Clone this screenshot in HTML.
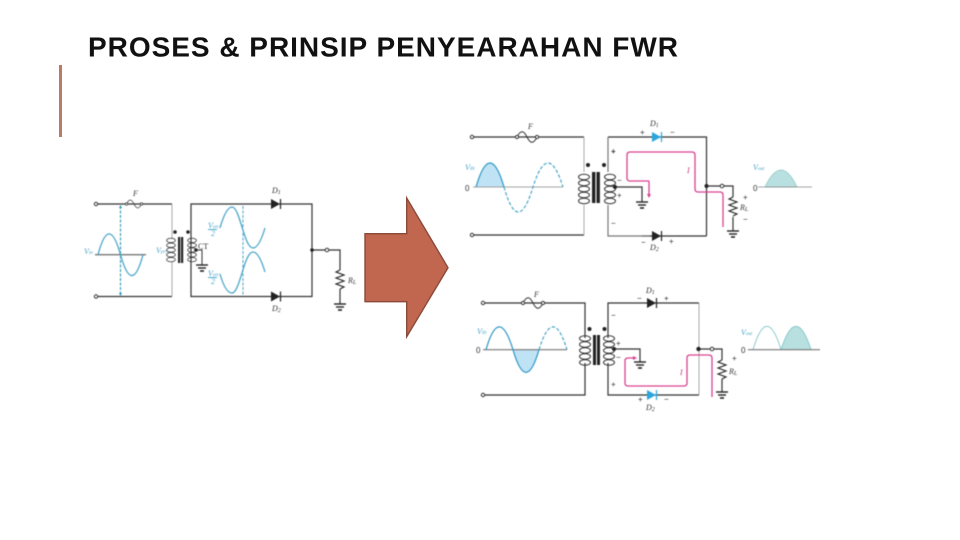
<!DOCTYPE html>
<html><head><meta charset="utf-8">
<style>
html,body{margin:0;padding:0;background:#fff;width:960px;height:540px;overflow:hidden}
svg{display:block;position:absolute;left:0;top:0}
.c{filter:blur(.45px)}
.l{font-family:"Liberation Serif",serif;font-style:italic;fill:#333;font-size:8px}
.b{fill:#4aa6c8}
.s{font-family:"Liberation Sans",sans-serif;font-size:8px;fill:#333}
</style></head><body>
<svg width="960" height="540" viewBox="0 0 960 540" xmlns="http://www.w3.org/2000/svg">
<defs>
<g id="coil" fill="none" stroke="#333" stroke-width="1"><ellipse cx="0" cy="-12" rx="5.5" ry="2.7"/><ellipse cx="0" cy="-6" rx="5.5" ry="2.7"/><ellipse cx="0" cy="0" rx="5.5" ry="2.7"/><ellipse cx="0" cy="6" rx="5.5" ry="2.7"/><ellipse cx="0" cy="12" rx="5.5" ry="2.7"/></g>
<g id="gnd" stroke="#222" fill="none"><path d="M-6 0H6" stroke-width="1.4"/><path d="M-4 3H4" stroke-width="1.4"/><path d="M-2 6H2" stroke-width="1.6"/></g>
<g id="fuse" fill="#fff" stroke="#333" stroke-width="1"><path d="M-10 0C-6-8-3-6 0 0S6 8 10 0" fill="none"/><circle cx="-10" cy="0" r="1.6"/><circle cx="10" cy="0" r="1.6"/></g>
<path id="res" d="M0 0L-4 2L4 5L-4 8L4 11L-4 14L4 17L0 19" fill="none" stroke="#222" stroke-width="1.1"/>
<g id="dk"><path d="M-5-5L4 0L-5 5Z" fill="#222"/><path d="M4.5-5V5" stroke="#222" stroke-width="1.2"/></g>
<g id="bl"><path d="M-5-5L4 0L-5 5Z" fill="#29a7dc"/><path d="M4.5-5V5" stroke="#29a7dc" stroke-width="1.2"/></g>
</defs>

<rect x="59" y="65" width="3" height="72" fill="#b97a66"/>
<text x="88" y="56.300" font-family="'Liberation Sans',sans-serif" font-size="28" font-weight="bold" fill="#111" textLength="590" lengthAdjust="spacing">PROSES &amp; PRINSIP PENYEARAHAN FWR</text>

<polygon points="365,233.700 406.700,233.700 406.700,198 448,267.700 406.700,336.700 406.700,301.700 365,301.700" fill="#c1674f" stroke="#8a4a3a" stroke-width="1.400"/>

<!-- LEFT -->
<g class="c">
<path d="M96 204H172M96 296.500H172M191 204H312V296.500H191ZM312 250H340V270M340 289V304" fill="none" stroke="#333" stroke-width="1.200"/>
<path d="M172 204V239M172 262V296.500" fill="none" stroke="#aaa" stroke-width="1"/>
<circle cx="96" cy="204" r="1.700" fill="#fff" stroke="#333"/><circle cx="96" cy="296.500" r="1.700" fill="#fff" stroke="#333"/>
<use href="#fuse" transform="translate(134,204) scale(.75)"/>
<path d="M120.500 206V295" stroke="#2f97b5" stroke-width="1.100" stroke-dasharray="3 1.500" fill="none"/>
<path d="M119 208L120.500 205L122 208ZM119 293L120.500 296L122 293Z" fill="#2f97b5"/>
<path d="M95 254.700H146" stroke="#777" stroke-width="1.400"/>
<path d="M98 254.700Q109 213 120.500 254.700T143 254.700" fill="none" stroke="#4aa6c8" stroke-width="1.300"/>
<use href="#coil" transform="translate(171,250) scale(.8)"/>
<rect x="178" y="237" width="2.200" height="26" fill="#222"/><rect x="181" y="237" width="2.200" height="26" fill="#222"/>
<use href="#coil" transform="translate(192,250) scale(.8)"/>
<circle cx="175" cy="232" r="1.800" fill="#222"/><circle cx="188" cy="232" r="1.800" fill="#222"/>
<circle cx="196" cy="250" r="1.800" fill="#222"/>
<path d="M196 250H202V265" stroke="#333" fill="none"/>
<use href="#gnd" transform="translate(202,265)"/>
<path d="M220 228C224 214 228 207 232 207C240 207 244 248 253 248C258 248 262 238 265 228" fill="none" stroke="#4aa6c8" stroke-width="1.300"/>
<path d="M220 274C224 288 228 293 232 293C240 293 244 252 253 252C258 252 262 262 265 272" fill="none" stroke="#4aa6c8" stroke-width="1.300"/>
<path d="M243 206V295" stroke="#4aa6c8" stroke-dasharray="3 1.500" fill="none"/>
<path d="M208 229.500H217M208 277.500H217" stroke="#4aa6c8"/>
<use href="#dk" transform="translate(276,204)"/><use href="#dk" transform="translate(276,296.500)"/>
<circle cx="312" cy="250" r="1.800" fill="#222"/><circle cx="327" cy="250" r="1.800" fill="#fff" stroke="#333"/>
<use href="#res" transform="translate(340,270)"/>
<use href="#gnd" transform="translate(340,304)"/>
<text class="l" x="133" y="196">F</text>
<text class="l" x="272" y="193">D<tspan font-size="6" dy="1">1</tspan></text>
<text class="l" x="272" y="311">D<tspan font-size="6" dy="1">2</tspan></text>
<text class="l b" x="84" y="254" font-size="7">V<tspan font-size="5">in</tspan></text>
<text class="l b" x="156" y="253" font-size="7">V<tspan font-size="5">pri</tspan></text>
<text class="l b" x="208" y="228" font-size="6">V<tspan font-size="5">sec</tspan></text>
<text class="l b" x="211" y="236" font-size="6">2</text>
<text class="l b" x="208" y="276" font-size="6">V<tspan font-size="5">sec</tspan></text>
<text class="l b" x="211" y="284" font-size="6">2</text>
<text class="s" x="198" y="249" style="font-family:'Liberation Serif',serif">CT</text>
<text class="l" x="348" y="283">R<tspan font-size="6" dy="1">L</tspan></text>
</g>

<!-- RIGHT TOP -->
<g class="c">
<path d="M472 137H584M472 235H584M608 137H706.500V236M642 236H706.500M706.500 186H733V197M733 217V231M615 187H642V202" fill="none" stroke="#333" stroke-width="1.200"/>
<path d="M584 137V172M584 205V235" stroke="#aaa" fill="none"/>
<path d="M608 137V172M608 205V236H650" stroke="#777" fill="none" stroke-width="1.200"/>
<circle cx="472" cy="137" r="1.700" fill="#fff" stroke="#333"/><circle cx="472" cy="235" r="1.700" fill="#fff" stroke="#333"/>
<use href="#fuse" transform="translate(527,137)"/>
<path d="M476 187Q490 139 504 187Z" fill="#bfe3f5"/>
<path d="M473 187H563" stroke="#888" stroke-width=".8"/>
<path d="M476 187Q490 139 504 187" fill="none" stroke="#2f97c5" stroke-width="1.200"/>
<path d="M504 187Q518 237 533 187Q548 139 563 187" fill="none" stroke="#4aa6c8" stroke-width="1.200" stroke-dasharray="3.500 1.800"/>
<use href="#coil" transform="translate(584,189)"/>
<rect x="592" y="172" width="3.400" height="31" fill="#222"/><rect x="596.500" y="172" width="3.400" height="31" fill="#222"/>
<use href="#coil" transform="translate(610,189)"/>
<circle cx="588" cy="165" r="2" fill="#222"/><circle cx="604" cy="165" r="2" fill="#222"/>
<circle cx="615" cy="187" r="2" fill="#222"/>
<use href="#gnd" transform="translate(642,202)"/>
<use href="#bl" transform="translate(657,137)"/><use href="#dk" transform="translate(657,236)"/>
<circle cx="706.500" cy="186" r="2" fill="#222"/><circle cx="722" cy="186" r="1.800" fill="#fff" stroke="#333"/>
<use href="#res" transform="translate(733,197)"/>
<use href="#gnd" transform="translate(733,231)"/>
<path d="M649 181H630Q627 181 627 178V155Q627 152 630 152H692Q695 152 695 155V189Q695 192 698 192H720Q723 192 723 195V227" fill="none" stroke="#d9408f" stroke-width="1.300"/>
<path d="M649 181V196" stroke="#d9408f" stroke-width="1.300"/><path d="M647 194H651L649 198Z" fill="#d9408f"/>
<path d="M765 187Q781 153 797 187Z" fill="#b9e0e0" stroke="#8cc5c5" stroke-width=".7"/>
<path d="M758 187H812" stroke="#888" stroke-width=".8"/>
<text class="l" x="650" y="126" font-size="9">D<tspan font-size="6" dy="1">1</tspan></text>
<text class="l" x="650" y="250" font-size="9">D<tspan font-size="6" dy="1">2</tspan></text>
<text class="l" x="528" y="129" font-size="9">F</text>
<text class="l b" x="465" y="170" font-size="9">V<tspan font-size="6">in</tspan></text>
<text class="s" x="465" y="191" fill="#666">0</text>
<text class="l b" x="753" y="170" font-size="8">V<tspan font-size="5">out</tspan></text>
<text class="s" x="753" y="191">0</text>
<text class="l" x="687" y="173" style="fill:#c2367e" font-size="9">I</text>
<text class="l" x="740" y="210" font-size="9">R<tspan font-size="6" dy="1">L</tspan></text>
<text class="s" x="611" y="154" font-weight="bold">+</text>
<text class="s" x="611" y="226">−</text>
<text class="s" x="617" y="183">−</text>
<text class="s" x="617" y="198">+</text>
<text class="s" x="640" y="135">+</text>
<text class="s" x="670" y="135">−</text>
<text class="s" x="641" y="245">−</text>
<text class="s" x="669" y="244">+</text>
<text class="s" x="743" y="200">+</text>
<text class="s" x="743" y="222">−</text>
</g>

<!-- RIGHT BOTTOM -->
<g class="c">
<path d="M483 303H585V338M585 363V395H483M608 338V303H699M608 363V395H699M699 349H722V360M722 379V392M614 349H640V362" fill="none" stroke="#333" stroke-width="1.200"/>
<path d="M699 303V395" stroke="#aaa" fill="none"/>
<circle cx="483" cy="303" r="1.700" fill="#fff" stroke="#333"/><circle cx="483" cy="395" r="1.700" fill="#fff" stroke="#333"/>
<use href="#fuse" transform="translate(533,303)"/>
<path d="M513 349.700Q526 395 539 349.700Z" fill="#bfe3f5"/>
<path d="M483 349.700H567" stroke="#777" stroke-width="1.200"/>
<path d="M486 349.700Q499 304 513 349.700Q526 395 539 349.700" fill="none" stroke="#2f97c5" stroke-width="1.200"/>
<path d="M539 349.700Q553 304 567 349.700" fill="none" stroke="#4aa6c8" stroke-width="1.200" stroke-dasharray="3.500 1.800"/>
<use href="#coil" transform="translate(585,350.500)"/>
<rect x="593" y="335" width="3" height="30" fill="#222"/><rect x="597" y="335" width="3" height="30" fill="#222"/>
<use href="#coil" transform="translate(609,350.500)"/>
<circle cx="589.500" cy="329" r="2" fill="#222"/><circle cx="604.500" cy="329" r="2" fill="#222"/>
<circle cx="614" cy="349" r="2" fill="#222"/>
<use href="#gnd" transform="translate(640,362)"/>
<use href="#dk" transform="translate(652,303)"/><use href="#bl" transform="translate(652,395)"/>
<circle cx="698.500" cy="349" r="2.200" fill="#222"/><circle cx="712" cy="349" r="1.800" fill="#fff" stroke="#333"/>
<use href="#res" transform="translate(722,360)"/>
<use href="#gnd" transform="translate(722,392)"/>
<path d="M635 358H628Q625 358 625 361V383Q625 386 628 386H684Q687 386 687 383V358Q687 355 690 355H709Q712 355 712 358V397" fill="none" stroke="#d9408f" stroke-width="1.300"/>
<path d="M633 356V360L637 358Z" fill="#d9408f"/>
<path d="M781 349.700Q796 303 811 349.700Z" fill="#b9e0e0"/>
<path d="M753 349.700Q767 303 781 349.700" fill="none" stroke="#7fc4c4" stroke-width=".9"/>
<path d="M781 349.700Q796 303 811 349.700" fill="none" stroke="#7fc4c4" stroke-width=".9"/>
<path d="M748 349.700H820" stroke="#777" stroke-width="1.200"/>
<text class="l" x="646" y="293" font-size="9">D<tspan font-size="6" dy="1">1</tspan></text>
<text class="l" x="646" y="410" font-size="9">D<tspan font-size="6" dy="1">2</tspan></text>
<text class="l" x="534" y="297" font-size="9">F</text>
<text class="l b" x="477" y="334" font-size="8">V<tspan font-size="6">in</tspan></text>
<text class="s" x="476" y="353">0</text>
<text class="l b" x="741" y="335" font-size="8">V<tspan font-size="5">out</tspan></text>
<text class="s" x="741" y="353">0</text>
<text class="l" x="680" y="375" style="fill:#c2367e" font-size="9">I</text>
<text class="l" x="729" y="374" font-size="8">R<tspan font-size="6" dy="1">L</tspan></text>
<text class="s" x="611" y="318">−</text>
<text class="s" x="611" y="387">+</text>
<text class="s" x="616" y="346">+</text>
<text class="s" x="616" y="360">−</text>
<text class="s" x="637" y="301">−</text>
<text class="s" x="664" y="301">+</text>
<text class="s" x="638" y="402">+</text>
<text class="s" x="664" y="402">−</text>
<text class="s" x="732" y="361">+</text>
</g>
</svg>
</body></html>
